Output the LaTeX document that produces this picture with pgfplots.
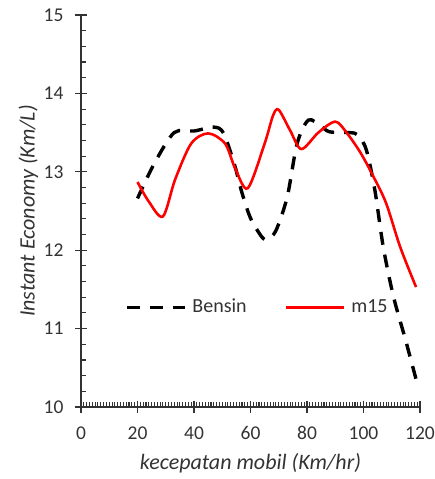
\documentclass[border=0pt]{standalone}
\usepackage{fontspec}
\setmainfont{Carlito}
\usepackage{pgfplots}
\pgfplotsset{compat=1.18}
\definecolor{axgray}{HTML}{333333}
\begin{document}
\fontsize{19}{23}\selectfont
\begin{tikzpicture}
\path[use as bounding box] (-81pt,-72pt) rectangle (354pt,407pt);
\begin{axis}[
  at={(0pt,0pt)}, anchor=south west,
  scale only axis, width=339pt, height=392pt,
  xmin=0, xmax=120, ymin=10, ymax=15,
  axis lines*=left,
  axis line style={axgray, line width=1.2pt},
  xtick={0,20,...,120}, ytick={10,11,...,15},
  minor x tick num=19, minor y tick num=4,
  tick align=inside,
  major tick length=12pt, minor tick length=5pt,
  every tick/.style={axgray, line width=1.1pt},
  every major x tick/.append style={yshift=-6pt},
  every major y tick/.append style={xshift=-6pt},
  /pgf/number format/assume math mode=true,
  ticklabel style={font=\fontsize{19.5}{23}\selectfont, text=axgray},
  xticklabel style={yshift=-13pt},
  yticklabel style={xshift=-11pt},
  xlabel={\itshape kecepatan mobil (Km/hr)},
  ylabel={\itshape Instant Economy (Km/L)},
  label style={font=\fontsize{22}{26}\selectfont, text=axgray},
  xlabel style={at={(axis description cs:0.5,-0.143)}, anchor=center},
  ylabel style={at={(axis description cs:-0.155,0.5)}, anchor=center},
  legend columns=2,
  legend style={at={(0.13,0.254)}, anchor=west, draw=none, fill=none,
    inner sep=0pt, outer sep=0pt, nodes={inner sep=0pt, text=axgray},
    font=\fontsize{20}{24}\selectfont,
    column sep=6pt,
    /tikz/every even column/.append style={column sep=38pt}},
  legend image code/.code={\draw[#1] (0pt,0pt) -- (58pt,0pt);},
]
\addplot[black, line width=3.4pt, dash pattern=on 13pt off 10pt, smooth] coordinates {
(20,12.66) (26,13.11) (33,13.50) (40,13.52) (47,13.57) (50.5,13.49) (54.5,13.07) (57,12.73) (60,12.41) (64,12.17) (66,12.14) (69,12.25) (73,12.68) (76.5,13.36) (80.5,13.66) (85,13.58) (88,13.51) (95,13.50) (98,13.47) (101,13.28) (104,12.77) (107,12.04) (110.6,11.41) (115,10.84) (119,10.30)
};
\addlegendentry{Bensin}
\addplot[red, line width=2.6pt, smooth] coordinates {
(20,12.87) (24,12.62) (29,12.43) (33.3,12.90) (39,13.36) (45,13.49) (51,13.36) (54.5,13.05) (59,12.79) (65,13.36) (68,13.72) (70,13.79) (74,13.53) (78,13.29) (84,13.50) (90,13.64) (94,13.50) (99,13.24) (103.5,12.94) (108,12.60) (113,12.04) (118.6,11.53)
};
\addlegendentry{m15}
\end{axis}
\end{tikzpicture}
\end{document}
